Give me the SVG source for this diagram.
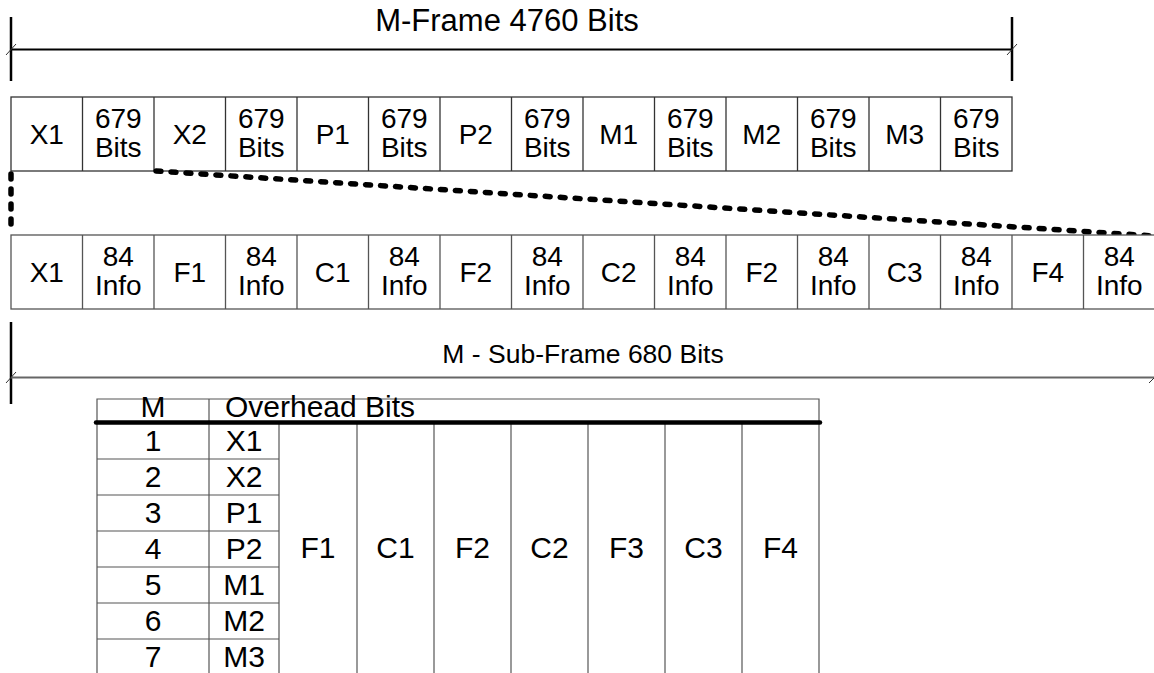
<svg xmlns="http://www.w3.org/2000/svg" width="1154" height="673" viewBox="0 0 1154 673">
<style>
text{font-family:"Liberation Sans",Arial,sans-serif;fill:#000;text-anchor:middle}
.t{font-size:28px}
.tb{font-size:30px}
.cell{fill:#fff;stroke:#333;stroke-width:1.3}
.cell2{fill:#fff;stroke:#555;stroke-width:1.3}
.dim{stroke:#000;stroke-width:2;fill:none}
.tick{stroke:#000;stroke-width:2.5}
.sl{stroke:#333;stroke-width:1}
.dash{stroke:#000;stroke-width:5.5;stroke-linecap:round;stroke-dasharray:5 10;fill:none}
.tl{stroke:#555;stroke-width:1.2;fill:none}
</style>
<g id="dim-top">
<line class="tick" x1="11" y1="17" x2="11" y2="81"/>
<line class="tick" x1="1012" y1="17" x2="1012" y2="81"/>
<line class="dim" x1="11" y1="49.5" x2="1012" y2="49.5" stroke-width="1.5"/>
<line class="sl" x1="6" y1="55" x2="16" y2="44"/>
<line class="sl" x1="1007" y1="55" x2="1017" y2="44"/>
<text x="507" y="31" style="font-size:31px">M-Frame 4760 Bits</text>
</g>
<g id="row-mframe">
<rect class="cell" x="11" y="97" width="1001" height="74"/>
<g class="cell">
<line x1="82.5" y1="97" x2="82.5" y2="171"/><line x1="154" y1="97" x2="154" y2="171"/><line x1="225.5" y1="97" x2="225.5" y2="171"/><line x1="297" y1="97" x2="297" y2="171"/><line x1="368.5" y1="97" x2="368.5" y2="171"/><line x1="440" y1="97" x2="440" y2="171"/><line x1="511.5" y1="97" x2="511.5" y2="171"/><line x1="583" y1="97" x2="583" y2="171"/><line x1="654.5" y1="97" x2="654.5" y2="171"/><line x1="726" y1="97" x2="726" y2="171"/><line x1="797.5" y1="97" x2="797.5" y2="171"/><line x1="869" y1="97" x2="869" y2="171"/><line x1="940.5" y1="97" x2="940.5" y2="171"/>
</g>
<g class="t">
<text x="46.75" y="144">X1</text>
<text x="118.25" y="128">679</text><text x="118.25" y="157">Bits</text>
<text x="189.75" y="144">X2</text>
<text x="261.25" y="128">679</text><text x="261.25" y="157">Bits</text>
<text x="332.75" y="144">P1</text>
<text x="404.25" y="128">679</text><text x="404.25" y="157">Bits</text>
<text x="475.75" y="144">P2</text>
<text x="547.25" y="128">679</text><text x="547.25" y="157">Bits</text>
<text x="618.75" y="144">M1</text>
<text x="690.25" y="128">679</text><text x="690.25" y="157">Bits</text>
<text x="761.75" y="144">M2</text>
<text x="833.25" y="128">679</text><text x="833.25" y="157">Bits</text>
<text x="904.75" y="144">M3</text>
<text x="976.25" y="128">679</text><text x="976.25" y="157">Bits</text>
</g>
</g>
<g id="connectors">
<line class="dash" x1="11" y1="174" x2="11" y2="233"/>
<line class="dash" x1="156" y1="171" x2="1154" y2="236"/>
</g>
<g id="row-subframe">
<rect class="cell2" x="11" y="235" width="1150" height="74"/>
<g class="cell2">
<line x1="82.5" y1="235" x2="82.5" y2="309"/><line x1="154" y1="235" x2="154" y2="309"/><line x1="225.5" y1="235" x2="225.5" y2="309"/><line x1="297" y1="235" x2="297" y2="309"/><line x1="368.5" y1="235" x2="368.5" y2="309"/><line x1="440" y1="235" x2="440" y2="309"/><line x1="511.5" y1="235" x2="511.5" y2="309"/><line x1="583" y1="235" x2="583" y2="309"/><line x1="654.5" y1="235" x2="654.5" y2="309"/><line x1="726" y1="235" x2="726" y2="309"/><line x1="797.5" y1="235" x2="797.5" y2="309"/><line x1="869" y1="235" x2="869" y2="309"/><line x1="940.5" y1="235" x2="940.5" y2="309"/><line x1="1012" y1="235" x2="1012" y2="309"/><line x1="1083.5" y1="235" x2="1083.5" y2="309"/>
</g>
<g class="t">
<text x="46.75" y="282">X1</text>
<text x="118.25" y="266">84</text><text x="118.25" y="295">Info</text>
<text x="189.75" y="282">F1</text>
<text x="261.25" y="266">84</text><text x="261.25" y="295">Info</text>
<text x="332.75" y="282">C1</text>
<text x="404.25" y="266">84</text><text x="404.25" y="295">Info</text>
<text x="475.75" y="282">F2</text>
<text x="547.25" y="266">84</text><text x="547.25" y="295">Info</text>
<text x="618.75" y="282">C2</text>
<text x="690.25" y="266">84</text><text x="690.25" y="295">Info</text>
<text x="761.75" y="282">F2</text>
<text x="833.25" y="266">84</text><text x="833.25" y="295">Info</text>
<text x="904.75" y="282">C3</text>
<text x="976.25" y="266">84</text><text x="976.25" y="295">Info</text>
<text x="1047.75" y="282">F4</text>
<text x="1119.25" y="266">84</text><text x="1119.25" y="295">Info</text>
</g>
</g>
<g id="dim-bottom">
<line class="tick" x1="11" y1="322" x2="11" y2="404"/>
<line x1="11" y1="377.5" x2="1154" y2="377.5" stroke="#666" stroke-width="2"/>
<line class="sl" x1="6" y1="383" x2="16" y2="372"/>
<line class="sl" x1="1149" y1="383" x2="1155" y2="377"/>
<text x="583" y="363" style="font-size:26.5px">M - Sub-Frame 680 Bits</text>
</g>
<g id="table">
<g class="tl">
<polyline points="97,673 97,399 819,399 819,673"/>
<line x1="209" y1="399" x2="209" y2="673"/>
<line x1="279" y1="422" x2="279" y2="673"/>
<line x1="357" y1="422" x2="357" y2="673"/>
<line x1="434" y1="422" x2="434" y2="673"/>
<line x1="511" y1="422" x2="511" y2="673"/>
<line x1="588" y1="422" x2="588" y2="673"/>
<line x1="665" y1="422" x2="665" y2="673"/>
<line x1="742" y1="422" x2="742" y2="673"/>
<line x1="97" y1="459" x2="279" y2="459"/>
<line x1="97" y1="495" x2="279" y2="495"/>
<line x1="97" y1="531" x2="279" y2="531"/>
<line x1="97" y1="567" x2="279" y2="567"/>
<line x1="97" y1="603" x2="279" y2="603"/>
<line x1="97" y1="639" x2="279" y2="639"/>
</g>
<line x1="96" y1="422.5" x2="820" y2="422.5" stroke="#000" stroke-width="4.5" stroke-linecap="round"/>
<g class="tb">
<text x="153" y="417">M</text>
<text x="320" y="417">Overhead Bits</text>
<text x="153" y="451">1</text><text x="244" y="451">X1</text>
<text x="153" y="487">2</text><text x="244" y="487">X2</text>
<text x="153" y="523">3</text><text x="244" y="523">P1</text>
<text x="153" y="559">4</text><text x="244" y="559">P2</text>
<text x="153" y="595">5</text><text x="244" y="595">M1</text>
<text x="153" y="631">6</text><text x="244" y="631">M2</text>
<text x="153" y="667">7</text><text x="244" y="667">M3</text>
<text x="318" y="558">F1</text>
<text x="395.5" y="558">C1</text>
<text x="472.5" y="558">F2</text>
<text x="549.5" y="558">C2</text>
<text x="626.5" y="558">F3</text>
<text x="703.5" y="558">C3</text>
<text x="780.5" y="558">F4</text>
</g>
</g>
</svg>
